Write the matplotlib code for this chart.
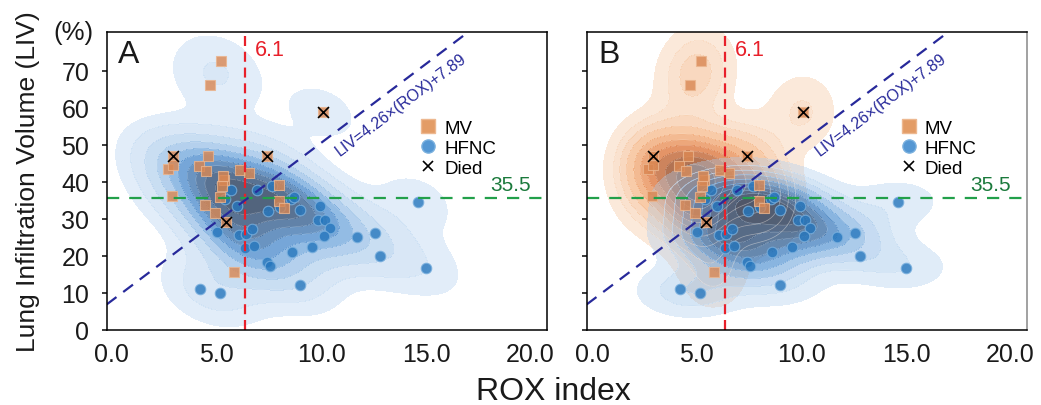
import numpy as np
import matplotlib
matplotlib.use("Agg")
import matplotlib.pyplot as plt
from matplotlib.colors import LinearSegmentedColormap
from matplotlib.lines import Line2D

plt.rcParams['font.family'] = ['Liberation Sans', 'DejaVu Sans']

# ---------------- data ----------------
mv_rox = [5.21, 4.70, 10.06, 2.91, 7.43, 4.57, 2.70, 2.91, 4.14, 4.50, 6.13, 6.57,
          5.33, 5.25, 5.30, 7.96, 2.87, 5.17, 4.46, 4.90, 5.45, 7.96, 8.24, 5.82]
mv_liv = [72.5, 66.1, 58.9, 47.0, 47.0, 46.9, 43.4, 44.5, 44.3, 43.0, 43.2, 42.3,
          40.3, 38.9, 41.5, 39.2, 36.2, 35.8, 33.7, 31.6, 29.0, 34.7, 32.8, 15.5]

hfnc_rox = [5.69, 5.42, 6.93, 7.67, 5.96, 7.44, 8.55, 8.70, 8.04, 9.00, 9.95, 9.84,
            10.19, 10.40, 10.15, 5.01, 6.08, 6.40, 6.71, 6.38, 6.80, 7.43, 7.55, 8.60,
            9.56, 11.73, 12.58, 12.82, 14.60, 15.02, 9.00, 4.19, 5.14]
hfnc_liv = [37.6, 35.3, 37.6, 38.9, 33.3, 32.0, 35.3, 35.8, 33.1, 32.3, 33.5, 29.6,
            29.6, 27.4, 25.4, 26.5, 25.7, 25.8, 27.2, 22.0, 22.6, 18.3, 17.2, 20.9,
            22.3, 25.1, 26.0, 19.8, 34.6, 16.7, 12.2, 11.0, 9.8]

died_rox = [10.06, 2.91, 7.43, 5.45]
died_liv = [58.9, 47.0, 47.0, 29.0]

rox_cut = 6.35          # drawn position of the "6.1" cut-off line
rox_cut_label = "6.1"
liv_cut = 35.5
reg_slope = 4.26
reg_intercept = 7.89

xticks = [0, 5, 10, 15, 20]
xticklabels = ["0.0", "5.0", "10.0", "15.0", "20.0"]
yticks = [0, 10, 20, 30, 40, 50, 60, 70]

# ---------------- helpers ----------------
def kde_grid(xs, ys, xg, yg):
    data = np.vstack([xs, ys]).astype(float)
    n = data.shape[1]
    f = n ** (-1.0 / 6.0)
    cov = np.cov(data) * f ** 2
    inv = np.linalg.inv(cov)
    norm = 1.0 / (2 * np.pi * np.sqrt(np.linalg.det(cov)) * n)
    X, Y = np.meshgrid(xg, yg)
    pts = np.stack([X.ravel(), Y.ravel()])
    dens = np.zeros(pts.shape[1])
    for i in range(n):
        d = pts - data[:, i:i + 1]
        q = np.sum(d * (inv @ d), axis=0)
        dens += np.exp(-0.5 * q)
    return X, Y, (dens * norm).reshape(X.shape)


def iso_levels(Z, props):
    vals = np.sort(Z.ravel())[::-1]
    cum = np.cumsum(vals) / vals.sum()
    idx = np.searchsorted(cum, 1 - props)
    return vals[np.clip(idx, 0, len(vals) - 1)]


def rgba(r, g, b, a):
    return (r / 255, g / 255, b / 255, a)


blue_cmap = LinearSegmentedColormap.from_list("b", [
    (0.0, rgba(184, 212, 241, 0.35)),
    (0.3, rgba(125, 175, 225, 0.50)),
    (0.55, rgba(47, 124, 201, 0.65)),
    (0.8, rgba(48, 88, 135, 0.78)),
    (1.0, rgba(48, 64, 90, 0.85)),
])
orange_cmap = LinearSegmentedColormap.from_list("o", [
    (0.0, rgba(246, 201, 166, 0.35)),
    (0.3, rgba(241, 150, 80, 0.55)),
    (0.55, rgba(222, 105, 40, 0.70)),
    (0.8, rgba(160, 80, 40, 0.80)),
    (1.0, rgba(110, 70, 52, 0.86)),
])

xg = np.linspace(-6, 26, 320)
yg = np.linspace(-25, 105, 320)
props = np.linspace(0.05, 1, 11)


def draw_kde(ax, xs, ys, cmap):
    X, Y, Z = kde_grid(xs, ys, xg, yg)
    lv = np.unique(iso_levels(Z, props))
    ax.contourf(X, Y, Z, levels=lv, cmap=cmap, zorder=1)
    ax.contour(X, Y, Z, levels=lv[1:-1], colors="white", linewidths=0.5, alpha=0.45, zorder=1.1)


# ---------------- figure ----------------
fig = plt.figure(figsize=(10.41, 4.06), dpi=100)
axA = fig.add_axes([0.1025, 0.1855, 0.4227, 0.734])
axB = fig.add_axes([0.5636, 0.1855, 0.4227, 0.734])

all_rox = mv_rox + hfnc_rox
all_liv = mv_liv + hfnc_liv

draw_kde(axA, all_rox, all_liv, blue_cmap)
draw_kde(axB, mv_rox, mv_liv, orange_cmap)
draw_kde(axB, hfnc_rox, hfnc_liv, blue_cmap)

xlim = (-0.25, 20.77)
ylim = (0, 80.5)

for ax, letter in [(axA, "A"), (axB, "B")]:
    ax.scatter(hfnc_rox, hfnc_liv, marker="o", s=58, facecolor="#2576bd",
               edgecolor="#7ab0de", linewidth=0.8, alpha=0.8, zorder=3)
    ax.scatter(mv_rox, mv_liv, marker="s", s=58, facecolor="#d98651",
               edgecolor="#ebb58e", linewidth=0.8, alpha=0.8, zorder=3)
    ax.scatter(died_rox, died_liv, marker="x", s=62, color="black", linewidth=1.2, zorder=4)

    ax.axvline(rox_cut, color="#e8202a", lw=1.6, ls=(0, (4.5, 2.6)), zorder=5)
    ax.axhline(liv_cut, color="#22a04a", lw=1.6, ls=(0, (5.5, 4.5)), zorder=5)
    xr = np.array(xlim)
    ax.plot(xr, reg_slope * xr + reg_intercept, color="#27299a", lw=1.6,
            ls=(0, (5.5, 3.8)), zorder=5)

    ax.set_xlim(*xlim)
    ax.set_ylim(*ylim)

    ax.text(rox_cut + 0.5, 75.6, rox_cut_label, color="#e8202a", fontsize=15.5,
            ha="left", va="center", zorder=6)
    ax.text(20.0, 36.6, f"{liv_cut}", color="#1b7a3c", fontsize=15,
            ha="right", va="bottom", zorder=6)

    # regression label rotated along line (angle from axes pixel scale)
    bbox = ax.get_position()
    px_x = bbox.width * fig.get_figwidth() * fig.dpi / (xlim[1] - xlim[0])
    px_y = bbox.height * fig.get_figheight() * fig.dpi / (ylim[1] - ylim[0])
    ang = np.degrees(np.arctan(reg_slope * px_y / px_x))
    ax.text(13.8, 61.0, "LIV=4.26\u00d7(ROX)+7.89", color="#27299a", fontsize=11.5,
            rotation=ang, rotation_mode="anchor", ha="center", va="center", zorder=6)

    ax.text(0.026, 0.897, letter, transform=ax.transAxes, fontsize=23,
            ha="left", va="baseline", color="#1a1a1a", zorder=6)

    ax.set_xticks(xticks)
    ax.set_xticklabels(xticklabels)
    ax.set_xticks([5], minor=True)
    ax.tick_params(axis="x", which="major", length=0, pad=9, labelsize=18, colors="#1a1a1a")
    ax.tick_params(axis="x", which="minor", length=3.5, width=1.2, color="black")
    ax.set_yticks(yticks)
    ax.tick_params(axis="y", which="major", length=3.5, width=1.2, pad=9, labelsize=18,
                   colors="#1a1a1a")
    for sp in ax.spines.values():
        sp.set_linewidth(1.1)
        sp.set_zorder(7)

    handles = [
        Line2D([], [], ls="none", marker="s", markersize=9.5, markerfacecolor="#e39c66",
               markeredgecolor="#edb890", label="MV"),
        Line2D([], [], ls="none", marker="o", markersize=9.5, markerfacecolor="#5597d3",
               markeredgecolor="#7ab0de", label="HFNC"),
        Line2D([], [], ls="none", marker="x", markersize=7.5, markeredgecolor="black",
               markeredgewidth=1.2, label="Died"),
    ]
    leg = ax.legend(handles=handles, loc="upper left", bbox_to_anchor=(0.71, 0.705),
                    frameon=False, fontsize=13.5, handlelength=1.0, handletextpad=0.35,
                    labelspacing=0.15, borderpad=0, borderaxespad=0)
    leg.set_zorder(8)

axB.set_yticklabels([])
axB.spines["right"].set_color("#888888")

fig.text(28.5 / 1041, 1 - 181.5 / 406, "Lung Infiltration Volume (LIV)", rotation=90,
         ha="center", va="center", fontsize=19, color="#1a1a1a")
fig.text(73.5 / 1041, 1 - 33 / 406, "(%)", ha="center", va="center", fontsize=18.5,
         color="#1a1a1a")
fig.text(553 / 1041, 1 - 392 / 406, "ROX index", ha="center", va="center", fontsize=23,
         color="#1a1a1a")

fig.savefig("out.png", dpi=100)
